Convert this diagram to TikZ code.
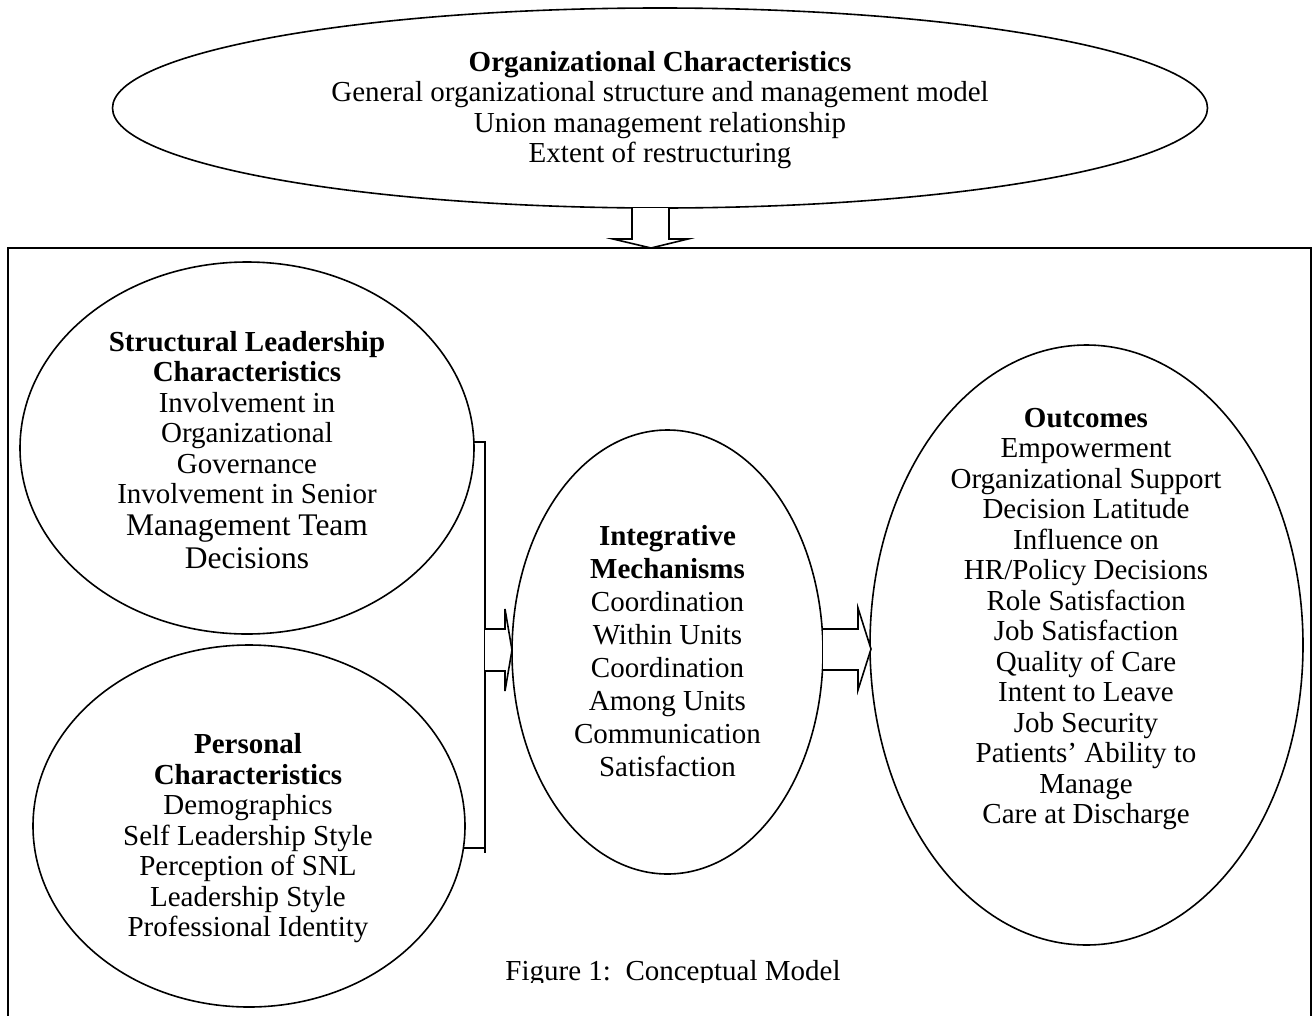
\documentclass[tikz,border=0pt]{standalone}
\usepackage{fontspec}
\setmainfont{Liberation Serif}
\usetikzlibrary{shapes.geometric}
\begin{document}
\begin{tikzpicture}[x=1pt,y=-1pt,line width=1.6pt,line join=miter,
  oval/.style={draw,ellipse,inner sep=0pt},
  txt/.style={align=center,inner sep=0pt,font=\fontsize{29}{30.5}\selectfont},
  bigtxt/.style={align=center,inner sep=0pt,font=\fontsize{31.5}{33}\selectfont},
  frame/.style={draw,line width=1.6pt},
  blockarrow/.style={draw,line width=1.6pt,fill=white}]
\useasboundingbox (0,0) rectangle (1312,1015);
% outer frame
\coordinate (fbl) at (8,1040);
\coordinate (ftl) at (8,248);
\coordinate (ftr) at (1311,248);
\coordinate (fbr) at (1311,1040);
\draw[frame] (fbl) -- (ftl) -- (ftr) -- (fbr);
% ellipses
\node[oval,minimum width=1095pt,minimum height=200pt] (org) at (660,108) {};
\node[oval,minimum width=454pt,minimum height=372pt] (slc) at (247,448) {};
\node[oval,minimum width=432pt,minimum height=362pt] (pc) at (249,826) {};
\node[oval,minimum width=311pt,minimum height=444pt] (im) at (667.5,652) {};
\node[oval,minimum width=433pt,minimum height=600pt] (out) at (1086.5,645) {};
% texts
\node[txt] (orgtxt) at (660,110) {\textbf{Organizational Characteristics}\\General organizational structure and management model\\Union management relationship\\Extent of restructuring};
\node[txt] (slctxt) at (247,417.5) {\textbf{Structural Leadership}\\\textbf{Characteristics}\\Involvement in\\Organizational\\Governance\\Involvement in Senior};
\node[bigtxt] (slctxtb) at (247,541.5) {Management Team\\Decisions};
\node[txt] (pctxt) at (248,838.5) {\textbf{Personal}\\\textbf{Characteristics}\\Demographics\\Self Leadership Style\\Perception of SNL\\Leadership Style\\Professional Identity};
\node[txt,font=\fontsize{29}{33}\selectfont] (imtxt) at (667.5,651.5) {\textbf{Integrative}\\\textbf{Mechanisms}\\Coordination\\Within Units\\Coordination\\Among Units\\Communication\\Satisfaction};
\node[txt] (outtxt) at (1086,619) {\textbf{Outcomes}\\Empowerment\\Organizational Support\\Decision Latitude\\Influence on\\HR/Policy Decisions\\Role Satisfaction\\Job Satisfaction\\Quality of Care\\Intent to Leave\\Job Security\\Patients’ Ability to\\Manage\\Care at Discharge};
\begin{scope}
\clip (0,0) rectangle (1312,982.5);
\node[txt,anchor=base] (caption) at (673,980) {Figure 1:\ \ Conceptual Model};
\end{scope}
% down block arrow from org to frame
\draw[blockarrow] (632,208) -- (632,239) -- (613,239) -- (651,248) -- (688,239) -- (669,239) -- (669,208);
% bracket joining the two left ellipses
\coordinate (bt) at (485,442);
\coordinate (bb) at (485,853);
\draw (473,442) -- (bt) -- (bb);
\draw (464,848) -- (485,848);
% block arrow bracket -> integrative
\draw[blockarrow] (485,629) -- (505,629) -- (505,609) -- (512,650) -- (505,691) -- (505,671) -- (485,671);
% block arrow integrative -> outcomes
\draw[blockarrow] (823,629) -- (858,629) -- (858,608) -- (871,649) -- (858,690) -- (858,670) -- (823,670);
\end{tikzpicture}
\end{document}
